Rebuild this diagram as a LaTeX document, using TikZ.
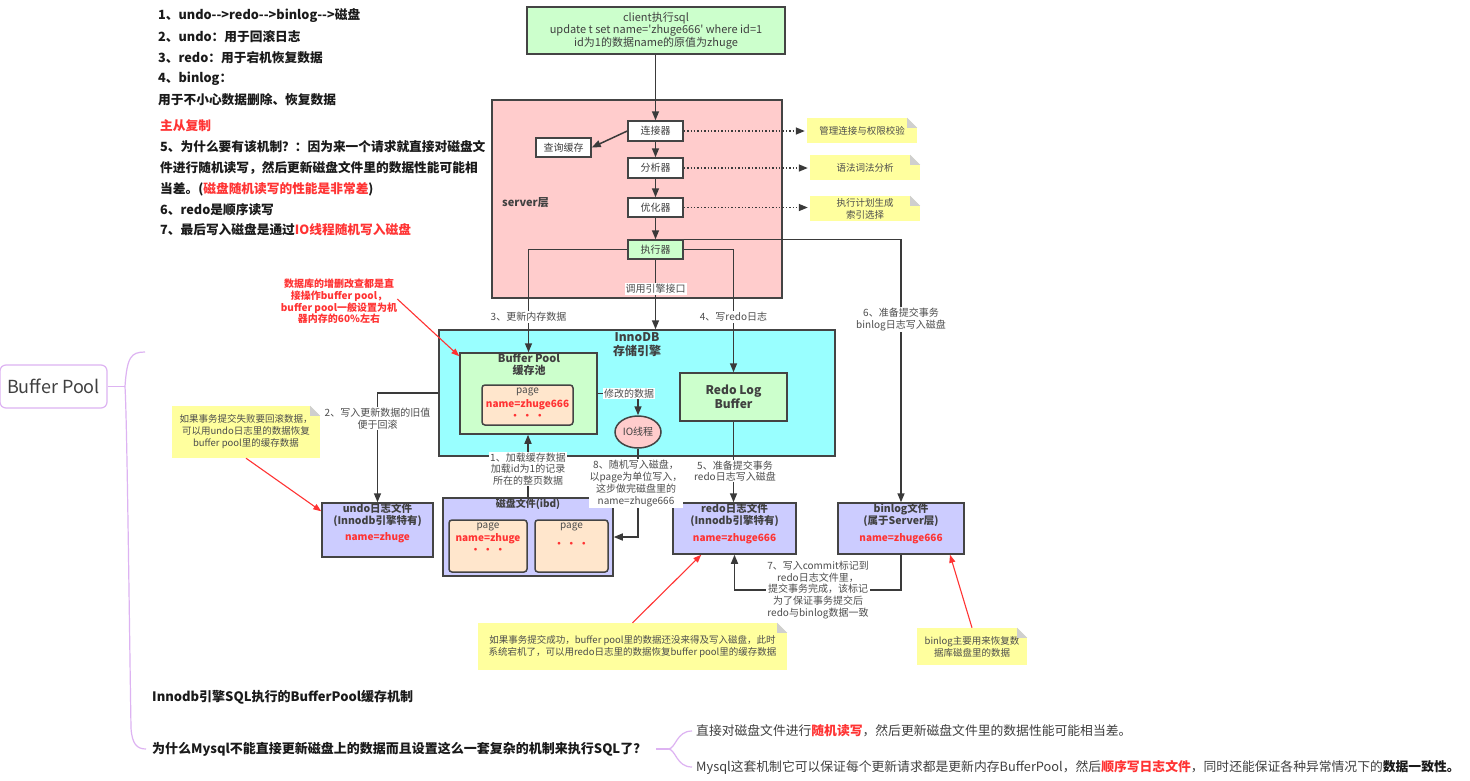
\documentclass[tikz,border=0pt]{standalone}
\usepackage{fontspec}
\setmainfont{Noto Sans CJK SC}
\usetikzlibrary{arrows.meta,calc,shapes.geometric}
\definecolor{bordc}{HTML}{444444}
\definecolor{linec}{HTML}{3A3A3A}
\definecolor{txtc}{HTML}{404040}
\definecolor{labc}{HTML}{4D4D4D}
\definecolor{blackc}{HTML}{1A1A1A}
\definecolor{redc}{HTML}{FF3333}
\definecolor{greenc}{HTML}{CCFFCC}
\definecolor{pinkc}{HTML}{FFCCCC}
\definecolor{cyanc}{HTML}{99FFFF}
\definecolor{lavc}{HTML}{CCCCFF}
\definecolor{peachc}{HTML}{FFE6CC}
\definecolor{notec}{HTML}{FFFF9E}
\definecolor{foldc}{HTML}{CFCFCF}
\definecolor{mmc}{HTML}{DDB3F2}
\newcommand\myfs[2]{\fontsize{#1}{#2}\selectfont}
\newcommand\stickynote[6]{%
  \node[note, minimum width=#4, minimum height=#5] (#1) at (#2,#3) {#6};
  \fill[white] (#1.north east) -- ($(#1.north east)+(-10,0)$) -- ($(#1.north east)+(0,10)$) -- cycle;
  \fill[foldc] ($(#1.north east)+(-10,0)$) -- ($(#1.north east)+(0,10)$) -- ($(#1.north east)+(-10,10)$) -- cycle;
}
\tikzset{
  box/.style={draw=bordc, line width=1.5pt, inner sep=0pt, align=center, text=txtc},
  conn/.style={draw=linec, line width=1.5pt, -{Triangle[length=9pt,width=7pt]}},
  lab/.style={fill=white, inner sep=1pt, align=center, text=labc, font=\myfs{10}{11.7}},
  note/.style={fill=notec, inner sep=0pt, align=center, text=labc, font=\myfs{9.5}{12}},
  redarr/.style={draw=redc, line width=1.1pt, -{Triangle[length=8pt,width=6pt]}},
  dotarr/.style={draw=linec, line width=1.4pt, dotted, -{Triangle[length=9pt,width=7pt]}},
  tl/.style={anchor=west, inner sep=0pt, font=\bfseries\myfs{12.7}{15}, text=blackc},
  mm/.style={draw=mmc, line width=1.2pt},
  btxt/.style={inner sep=0pt, align=center, font=\bfseries\myfs{10.5}{12}, text=txtc},
}
\begin{document}
\begin{tikzpicture}[x=1pt,y=-1pt]
\useasboundingbox[fill=white] (0,0) rectangle (1470,780);

% ---- top-left text
\node[tl] (tl1) at (158,16) {1、undo-{}-{}>redo-{}-{}>binlog-{}-{}>磁盘};
\node[tl] (tl2) at (158,37) {2、undo：用于回滚日志};
\node[tl] (tl3) at (158,58) {3、redo：用于宕机恢复数据};
\node[tl] (tl4) at (158,79) {4、binlog：};
\node[tl] (tl5) at (158,100) {用于不小心数据删除、恢复数据};
\node[tl, text=redc] (tl6) at (160,126) {主从复制};
\node[tl] (tl7) at (160,147) {5、为什么要有该机制？：因为来一个请求就直接对磁盘文};
\node[tl] (tl8) at (160,168) {件进行随机读写，然后更新磁盘文件里的数据性能可能相};
\node[tl] (tl9) at (160,189) {当差。(\textcolor{redc}{磁盘随机读写的性能是非常差})};
\node[tl] (tl10) at (160,210) {6、redo是顺序读写};
\node[tl] (tl11) at (160,230) {7、最后写入磁盘是通过\textcolor{redc}{IO线程随机写入磁盘}};

% ---- client & server
\node[box, fill=greenc, minimum width=258, minimum height=47, font=\myfs{11}{12.5}] (client) at (656,30.5)
  {client执行sql\\update t set name=\textquotesingle zhuge666\textquotesingle{} where id=1\\id为1的数据name的原值为zhuge};
\node[box, fill=pinkc, minimum width=290, minimum height=198] (server) at (637,199) {};
\node[anchor=west, inner sep=0pt, font=\bfseries\myfs{11}{13}, text=txtc] (serverlab) at (502,203) {server层};
\node[box, fill=white, minimum width=55, minimum height=20, font=\myfs{10}{12}] (lj) at (655.5,131) {连接器};
\node[box, fill=white, minimum width=55, minimum height=19, font=\myfs{10}{12}] (cache) at (563.5,147.5) {查询缓存};
\node[box, fill=white, minimum width=55, minimum height=20, font=\myfs{10}{12}] (fx) at (655.5,168) {分析器};
\node[box, fill=white, minimum width=55, minimum height=19, font=\myfs{10}{12}] (yh) at (655.5,207.5) {优化器};
\node[box, fill=greenc, minimum width=55, minimum height=19, font=\myfs{10}{12}] (exec) at (655.5,249.5) {执行器};

\draw[conn] (lj.north |- client.south) -- (lj.north);
\draw[conn] (lj.south) -- (fx.north);
\draw[conn] (fx.south) -- (yh.north);
\draw[conn] (yh.south) -- (exec.north);
\draw[conn] (lj.west) -- (cache.east);

\stickynote{n1}{862}{130.5}{110}{25}{管理连接与权限校验}
\stickynote{n2}{865}{167.5}{110}{25}{语法词法分析}
\stickynote{n3}{865}{208.5}{110}{25}{执行计划生成\\索引选择}
\draw[dotarr, shorten >=2pt] (lj.east) -- (lj.east -| n1.west);
\draw[dotarr, shorten >=2pt] (fx.east) -- (fx.east -| n2.west);
\draw[dotarr, shorten >=2pt] (yh.east) -- (yh.east -| n3.west);

% ---- InnoDB
\node[box, fill=cyanc, minimum width=396, minimum height=126] (innodb) at (637,393) {};
\node[btxt, font=\bfseries\myfs{12}{14}] (innotitle) at (637,345) {InnoDB\\存储引擎};
\node[box, fill=greenc, minimum width=137, minimum height=81] (bp) at (528.5,393.5) {};
\node[btxt, font=\bfseries\myfs{11}{11.5}] (bptitle) at (529,364.5) {Buffer Pool\\缓存池};
\node[box, fill=peachc, rounded corners=3pt, minimum width=91, minimum height=40] (bppage) at (527.5,405) {};
\node[inner sep=0pt, font=\myfs{10}{12}, text=labc] (bpp1) at (527.5,392) {page};
\node[inner sep=0pt, font=\bfseries\myfs{10}{12}, text=redc] (bpp2) at (527.5,405) {name=zhuge666};
\node[inner sep=0pt, font=\bfseries\myfs{10}{12}, text=redc] (bpp3) at (527.5,417) {· · ·};
\node[box, fill=greenc, minimum width=107, minimum height=48, font=\bfseries\myfs{12}{12.5}] (rlb) at (733.5,397) {Redo Log\\Buffer};
\node[box, ellipse, fill=pinkc, minimum width=46, minimum height=32, font=\myfs{10}{12}] (io) at (638,432) {IO线程};

% ---- files
\node[box, fill=lavc, minimum width=111, minimum height=54] (undo) at (377.5,530) {};
\node[btxt] (undot) at (377.5,515) {undo日志文件\\(Innodb引擎特有)};
\node[btxt, font=\bfseries\myfs{10}{12}, text=redc] (undon) at (377.5,538) {name=zhuge};
\node[box, fill=lavc, minimum width=170, minimum height=78] (disk) at (528,537) {};
\node[btxt, font=\bfseries\myfs{10}{12}] (diskt) at (528,504) {磁盘文件(ibd)};
\node[box, fill=peachc, rounded corners=3pt, minimum width=78, minimum height=52] (pg1) at (488,546) {};
\node[inner sep=0pt, font=\myfs{10}{12}, text=labc] (pg1a) at (488,527) {page};
\node[btxt, font=\bfseries\myfs{10}{12}, text=redc] (pg1b) at (488,539) {name=zhuge};
\node[inner sep=0pt, font=\bfseries\myfs{10}{12}, text=redc] (pg1c) at (488,551) {· · ·};
\node[box, fill=peachc, rounded corners=3pt, minimum width=73, minimum height=52] (pg2) at (571.5,546) {};
\node[inner sep=0pt, font=\myfs{10}{12}, text=labc] (pg2a) at (571.5,527) {page};
\node[inner sep=0pt, font=\bfseries\myfs{10}{12}, text=redc] (pg2c) at (571.5,545) {· · ·};
\node[box, fill=lavc, minimum width=123, minimum height=51] (redo) at (734.5,528.5) {};
\node[btxt] (redot) at (734.5,515) {redo日志文件\\(Innodb引擎特有)};
\node[btxt, font=\bfseries\myfs{10}{12}, text=redc] (redon) at (734.5,539) {name=zhuge666};
\node[box, fill=lavc, minimum width=126, minimum height=51] (binlog) at (901,528.5) {};
\node[btxt] (binlogt) at (901,515) {binlog文件\\(属于Server层)};
\node[btxt, font=\bfseries\myfs{10}{12}, text=redc] (binlogn) at (901,539) {name=zhuge666};

% ---- connectors from executor
\draw[conn] (exec.west) -| (bp.north);
\draw[conn] (exec.east) -| (rlb.north);
\draw[conn] (exec.north east) -| (binlog.north);
\draw[conn] (exec.south) -- (exec.south |- innodb.north);
\node[lab] (l3) at (528.5,317) {3、更新内存数据};
\node[lab] (l4) at (733.5,317) {4、写redo日志};
\node[lab] (lcall) at (655.5,289) {调用引擎接口};
\node[lab] (l6) at (901,319.5) {6、准备提交事务\\binlog日志写入磁盘};

% ---- inner connectors
\draw[conn] (bp.east) -| (io.north);
\node[lab] (lmod) at (629,393.5) {修改的数据};
\draw[conn] (io.south) |- (disk.east);
\node[lab] (l8) at (636,483.5) {8、随机写入磁盘，\\以page为单位写入，\\这步做完磁盘里的\\name=zhuge666};
\draw[conn] (disk.north) -- (disk.north |- bp.south);
\node[lab] (l1) at (528,469) {1、加载缓存数据\\加载id为1的记录\\所在的整页数据};
\draw[conn] (innodb.west) -| (undo.north);
\node[lab] (l2) at (377.5,418.5) {2、写入更新数据的旧值\\便于回滚};
\draw[conn] (rlb.south) -- (rlb.south |- redo.north);
\node[lab] (l5) at (735,471) {5、准备提交事务\\redo日志写入磁盘};
\coordinate (c7) at ($(binlog.south)+(0,35)$);
\draw[conn] (binlog.south) -- (c7) -| (redo.south);
\node[lab] (l7) at (818,590) {7、写入commit标记到\\redo日志文件里，\\提交事务完成，该标记\\为了保证事务提交后\\redo与binlog数据一致};

% ---- notes with red arrows
\stickynote{nu}{246}{432}{148}{52}{如果事务提交失败要回滚数据，\\可以用undo日志里的数据恢复\\buffer pool里的缓存数据}
\stickynote{nb}{632.5}{646.5}{309}{47}{如果事务提交成功，buffer pool里的数据还没来得及写入磁盘，此时\\系统宕机了，可以用redo日志里的数据恢复buffer pool里的缓存数据}
\stickynote{nbin}{972}{646.5}{110}{37}{binlog主要用来恢复数\\据库磁盘里的数据}
\node[inner sep=0pt, align=center, text=redc, font=\bfseries\myfs{10}{11.7}] (redtxt) at (339,301.5)
  {数据库的增删改查都是直\\接操作buffer pool，\\buffer pool一般设置为机\\器内存的60\%左右};
\draw[redarr] (redtxt.east |- 0,299) -- ($(bp.north west)+(0,4)$);
\draw[redarr] (nu.south) -- ($(undo.north west)+(0,9)$);
\draw[redarr] (nb.north) -- ($(redo.south west)+(29,0)$);
\draw[redarr] (nbin.north) -- ($(binlog.south)+(49,0)$);

% ---- mind map
\node[draw=mmc, line width=1.2pt, rounded corners=6pt, fill=white, minimum width=107, minimum height=43,
  inner sep=0pt, font=\myfs{18}{20}, text=txtc] (bpnode) at (53.5,386.5) {Buffer Pool};
\coordinate (j1) at (125,386.5);
\coordinate (t1) at (145,352);
\coordinate (b1) at (146,749);
\draw[mm] (bpnode.east) -- (j1);
\draw[mm] (j1) .. controls (127,357) and (131,352) .. (t1);
\draw[mm] (j1) .. controls (127,420) and (129,600) .. (131,728) .. controls (132,744) and (137,749) .. (b1);
\node[anchor=west, inner sep=0pt, font=\bfseries\myfs{13}{15}, text=blackc] (mm1) at (152,697) {Innodb引擎SQL执行的BufferPool缓存机制};
\node[anchor=west, inner sep=0pt, font=\bfseries\myfs{13}{15}, text=blackc] (mm2) at (152,749) {为什么Mysql不能直接更新磁盘上的数据而且设置这么一套复杂的机制来执行SQL了？};
\coordinate (j2) at (668,749);
\coordinate (t2) at (692,731);
\coordinate (b2) at (692,767);
\draw[mm] ($(mm2.east)+(10,0)$) -- (j2);
\draw[mm] (j2) .. controls (676,749) and (676,731) .. (t2);
\draw[mm] (j2) .. controls (676,749) and (676,767) .. (b2);
\node[anchor=west, inner sep=0pt, font=\myfs{12.8}{15}, text=txtc] (r1) at (696,731)
  {直接对磁盘文件进行\textcolor{redc}{\bfseries 随机读写}，然后更新磁盘文件里的数据性能可能相当差。};
\node[anchor=west, inner sep=0pt, font=\myfs{12.8}{15}, text=txtc] (r2) at (696,767)
  {Mysql这套机制它可以保证每个更新请求都是更新内存BufferPool，然后\textcolor{redc}{\bfseries 顺序写日志文件}，同时还能保证各种异常情况下的\textcolor{blackc}{\bfseries 数据一致性。}};
\end{tikzpicture}
\end{document}
